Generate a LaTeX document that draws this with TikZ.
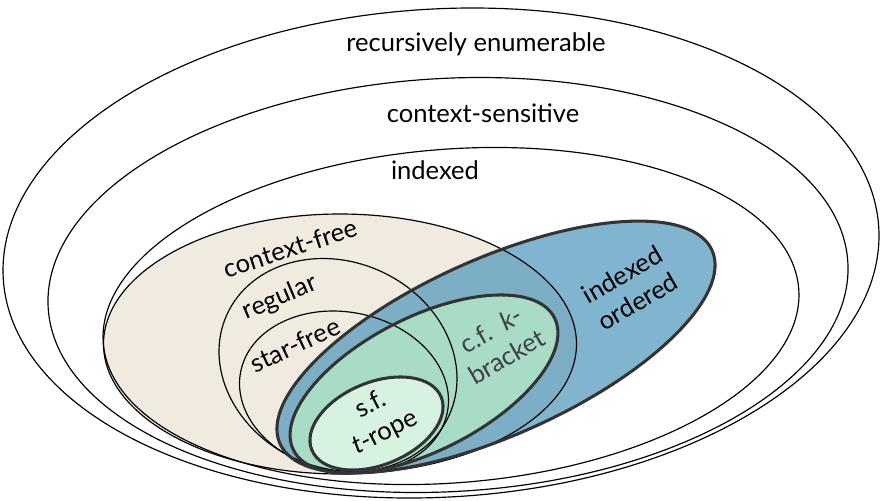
\documentclass[tikz,border=0pt]{standalone}
\usepackage{fontspec}
\setmainfont{Lato}
\definecolor{cfbeige}{RGB}{240,234,224}
\definecolor{ioblue}{RGB}{76,149,186}
\definecolor{kbgreen}{RGB}{168,220,198}
\definecolor{trgreen}{RGB}{216,242,226}
\begin{document}
\begin{tikzpicture}[x=0.015cm,y=-0.015cm,
    lang/.style={draw=black,line width=0.5pt},
    rim/.style={draw=black!80,line width=1.3pt},
    lbl/.style={font=\fontsize{10.9}{13.2}\selectfont,align=center,inner sep=0pt}]
  \useasboundingbox (0,0) rectangle (881,500);
  % fills first
  \fill[cfbeige] (340,344) ellipse [x radius=236.5,y radius=130];
  \fill[ioblue,fill opacity=0.7,rotate around={24.1:(496,347)}] (496,347) ellipse [x radius=236.7,y radius=88.4];
  \fill[kbgreen,rotate around={26.9:(424,384)}] (424,384) ellipse [x radius=146.3,y radius=66.8];
  \fill[trgreen,rotate around={22.3:(376.5,423.5)}] (376.5,423.5) ellipse [x radius=69.9,y radius=41.3];
  % the classical classes
  \draw[lang,rotate around={3.3:(441,253)}] (441,253) ellipse [x radius=438.5,y radius=244.1];
  \draw[lang,rotate around={3.2:(448,285)}] (448,285) ellipse [x radius=400.5,y radius=206.6];
  \draw[lang,rotate around={4.5:(451,316)}] (451,316) ellipse [x radius=348.8,y radius=166.8];
  \draw[lang] (340,344) ellipse [x radius=236.5,y radius=130];
  \draw[lang,rotate around={-24.4:(338,365)}] (338,365) ellipse [x radius=122,y radius=103];
  \draw[lang,rotate around={-11.1:(344,392)}] (344,392) ellipse [x radius=105.3,y radius=79.9];
  % the new ones
  \draw[rim,rotate around={24.1:(496,347)}] (496,347) ellipse [x radius=236.7,y radius=88.4];
  \draw[rim,rotate around={26.9:(424,384)}] (424,384) ellipse [x radius=146.3,y radius=66.8];
  \draw[rim,rotate around={22.3:(376.5,423.5)}] (376.5,423.5) ellipse [x radius=69.9,y radius=41.3];
  % labels
  \node[lbl] (re) at (476,44) {recursively enumerable};
  \node[lbl] (cs) at (483,113) {context-sensitive};
  \node[lbl] (ix) at (435,170) {indexed};
  \node[lbl,rotate=18] (cf) at (290,248) {context-free};
  \node[lbl,rotate=23] (reg) at (280,298) {regular};
  \node[lbl,rotate=25] (sf) at (295,345) {star-free};
  \node[lbl,rotate=30] (io) at (630,288) {indexed\\ordered};
  \node[lbl,rotate=30,text=black!75] (kb) at (499,343) {c.f.~~\textit{k}-\\bracket};
  \node[lbl,rotate=27] (tr) at (378,419) {s.f.\\\textit{t}-rope};
\end{tikzpicture}
\end{document}
